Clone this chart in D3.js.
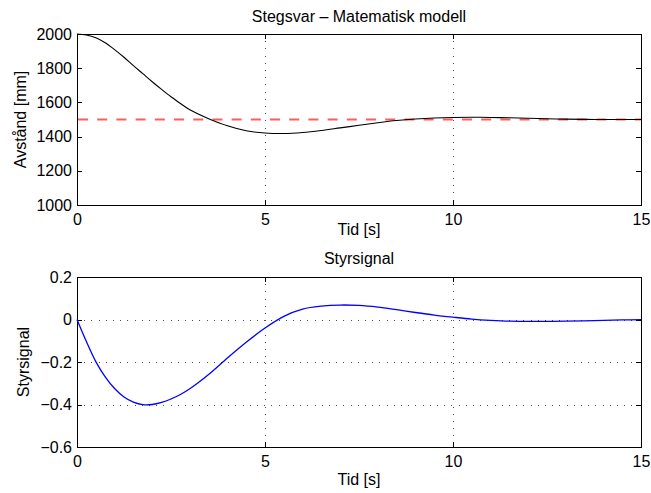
<!DOCTYPE html>
<html>
<head>
<meta charset="utf-8">
<script src="https://cdn.jsdelivr.net/npm/d3@7"></script>
<style>
  html, body { margin: 0; padding: 0; background: #fff; }
  svg { display: block; }
  text { font-family: "Liberation Sans", Arial, Helvetica, sans-serif; fill: #000; }
</style>
</head>
<body>
<svg id="chart" width="651" height="493"></svg>
<script>
// ---- data ----
const time = [0, 0.25, 0.5, 0.75, 1, 1.25, 1.5, 1.75, 2, 2.25, 2.5, 2.75, 3,
  3.5, 4, 4.5, 5, 5.5, 6, 6.5, 7, 7.5, 8, 8.5, 9, 9.5, 10, 10.5, 11, 11.5, 12, 12.5, 13, 13.5, 14, 14.5, 15];
const distance = [2000, 1994, 1978, 1949, 1909, 1864, 1815, 1768, 1721, 1676, 1633, 1594, 1557,
  1505, 1463, 1434, 1421, 1418, 1424, 1436, 1451, 1466, 1481, 1494, 1503, 1509, 1512, 1513, 1512, 1510, 1507, 1504, 1502, 1501, 1500, 1500, 1500];
const control = [0, -0.104, -0.198, -0.270, -0.325, -0.365, -0.389, -0.401, -0.400, -0.390, -0.374, -0.353, -0.326,
  -0.259, -0.181, -0.107, -0.040, 0.015, 0.049, 0.063, 0.068, 0.066, 0.058, 0.046, 0.033, 0.021, 0.011, 0.002, -0.004, -0.008, -0.009, -0.009, -0.008, -0.006, -0.004, -0.002, -0.001];
const referenceLevel = [1500];
const xTicks = [0, 5, 10, 15];
const yTicksTop = [1000, 1200, 1400, 1600, 1800, 2000];
const yTicksBottom = [-0.6, -0.4, -0.2, 0, 0.2];
const yTickLabelsBottom = ["\u22120.6", "\u22120.4", "\u22120.2", "0", "0.2"];
const titles = ["Stegsvar \u2013 Matematisk modell", "Styrsignal"];
const yLabels = ["Avst\u00e5nd [mm]", "Styrsignal"];
const xLabel = "Tid [s]";

// ---- layout ----
const svg = d3.select("#chart");
const FS = 16;
const left = 77, right = 641;
const panels = [
  { top: 34, bottom: 205, domain: [1000, 2000], ticks: yTicksTop, labels: yTicksTop.map(String),
    values: distance, color: "#000", width: 1.1, hgrid: false, title: titles[0], ylabel: yLabels[0],
    ylabelX: 26, xlabelY: 234.5, titleY: 21.5 },
  { top: 277, bottom: 447, domain: [-0.6, 0.2], ticks: yTicksBottom, labels: yTickLabelsBottom,
    values: control, color: "#0000ff", width: 1.3, hgrid: true, title: titles[1], ylabel: yLabels[1],
    ylabelX: 29, xlabelY: 485, titleY: 264 }
];

const x = d3.scaleLinear().domain([0, 15]).range([left, right]);

panels.forEach((p, i) => {
  const y = d3.scaleLinear().domain(p.domain).range([p.bottom, p.top]);
  const g = svg.append("g");
  const h = p.bottom - p.top;

  // grid (dotted)
  const grid = g.append("g").attr("stroke", "#000").attr("stroke-width", 1)
    .attr("stroke-dasharray", "1,6.2").attr("shape-rendering", "crispEdges").attr("opacity", 0.7);
  xTicks.filter(t => t > 0 && t < 15).forEach(t => {
    grid.append("line").attr("x1", Math.round(x(t)) + 0.5).attr("x2", Math.round(x(t)) + 0.5)
      .attr("y1", p.top).attr("y2", p.bottom);
  });
  if (p.hgrid) {
    p.ticks.filter(t => t > p.domain[0] && t < p.domain[1]).forEach(t => {
      grid.append("line").attr("y1", Math.round(y(t)) + 0.5).attr("y2", Math.round(y(t)) + 0.5)
        .attr("x1", left).attr("x2", right);
    });
  }

  // axes with inside ticks
  const ax = g.append("g").attr("shape-rendering", "crispEdges");
  ax.append("g").attr("transform", `translate(0,${p.bottom})`)
    .call(d3.axisBottom(x).tickValues(xTicks).tickSize(-5).tickSizeOuter(0).tickPadding(9).tickFormat(d3.format("d")));
  ax.append("g").attr("transform", `translate(0,${p.top})`)
    .call(d3.axisTop(x).tickValues(xTicks).tickSize(-5).tickSizeOuter(0).tickFormat(""));
  ax.append("g").attr("transform", `translate(${left},0)`)
    .call(d3.axisLeft(y).tickValues(p.ticks).tickSize(-5).tickSizeOuter(0).tickPadding(5)
      .tickFormat((d, k) => p.labels[k]));
  ax.append("g").attr("transform", `translate(${right},0)`)
    .call(d3.axisRight(y).tickValues(p.ticks).tickSize(-5).tickSizeOuter(0).tickFormat(""));
  ax.selectAll(".domain").remove();
  ax.selectAll(".tick line").attr("stroke", "#000");
  ax.selectAll("text").attr("font-size", FS).attr("font-family", null).style("fill", "#000");

  // box
  g.append("rect").attr("x", left + 0.5).attr("y", p.top + 0.5)
    .attr("width", right - left).attr("height", h)
    .attr("fill", "none").attr("stroke", "#000").attr("stroke-width", 1).attr("shape-rendering", "crispEdges");

  // reference line (top only)
  if (i === 0) {
    g.selectAll(".ref").data(referenceLevel).enter().append("line")
      .attr("x1", left + 1).attr("x2", right)
      .attr("y1", d => y(d)).attr("y2", d => y(d))
      .attr("stroke", "#ff5c5c").attr("stroke-width", 2).attr("stroke-dasharray", "10,9.2");
  }

  // curve
  const line = d3.line().x((d, k) => x(time[k])).y(d => y(d)).curve(d3.curveCatmullRom.alpha(0.5));
  g.append("path").datum(p.values).attr("d", line)
    .attr("fill", "none").attr("stroke", p.color).attr("stroke-width", p.width);

  // title
  g.append("text").attr("x", (left + right) / 2).attr("y", p.titleY)
    .attr("text-anchor", "middle").attr("font-size", FS).text(p.title);
  // x label
  g.append("text").attr("x", (left + right) / 2).attr("y", p.xlabelY)
    .attr("text-anchor", "middle").attr("font-size", FS).text(xLabel);
  // y label
  g.append("text").attr("transform", `translate(${p.ylabelX},${(p.top + p.bottom) / 2}) rotate(-90)`)
    .attr("text-anchor", "middle").attr("font-size", FS).text(p.ylabel);
});
</script>
</body>
</html>
